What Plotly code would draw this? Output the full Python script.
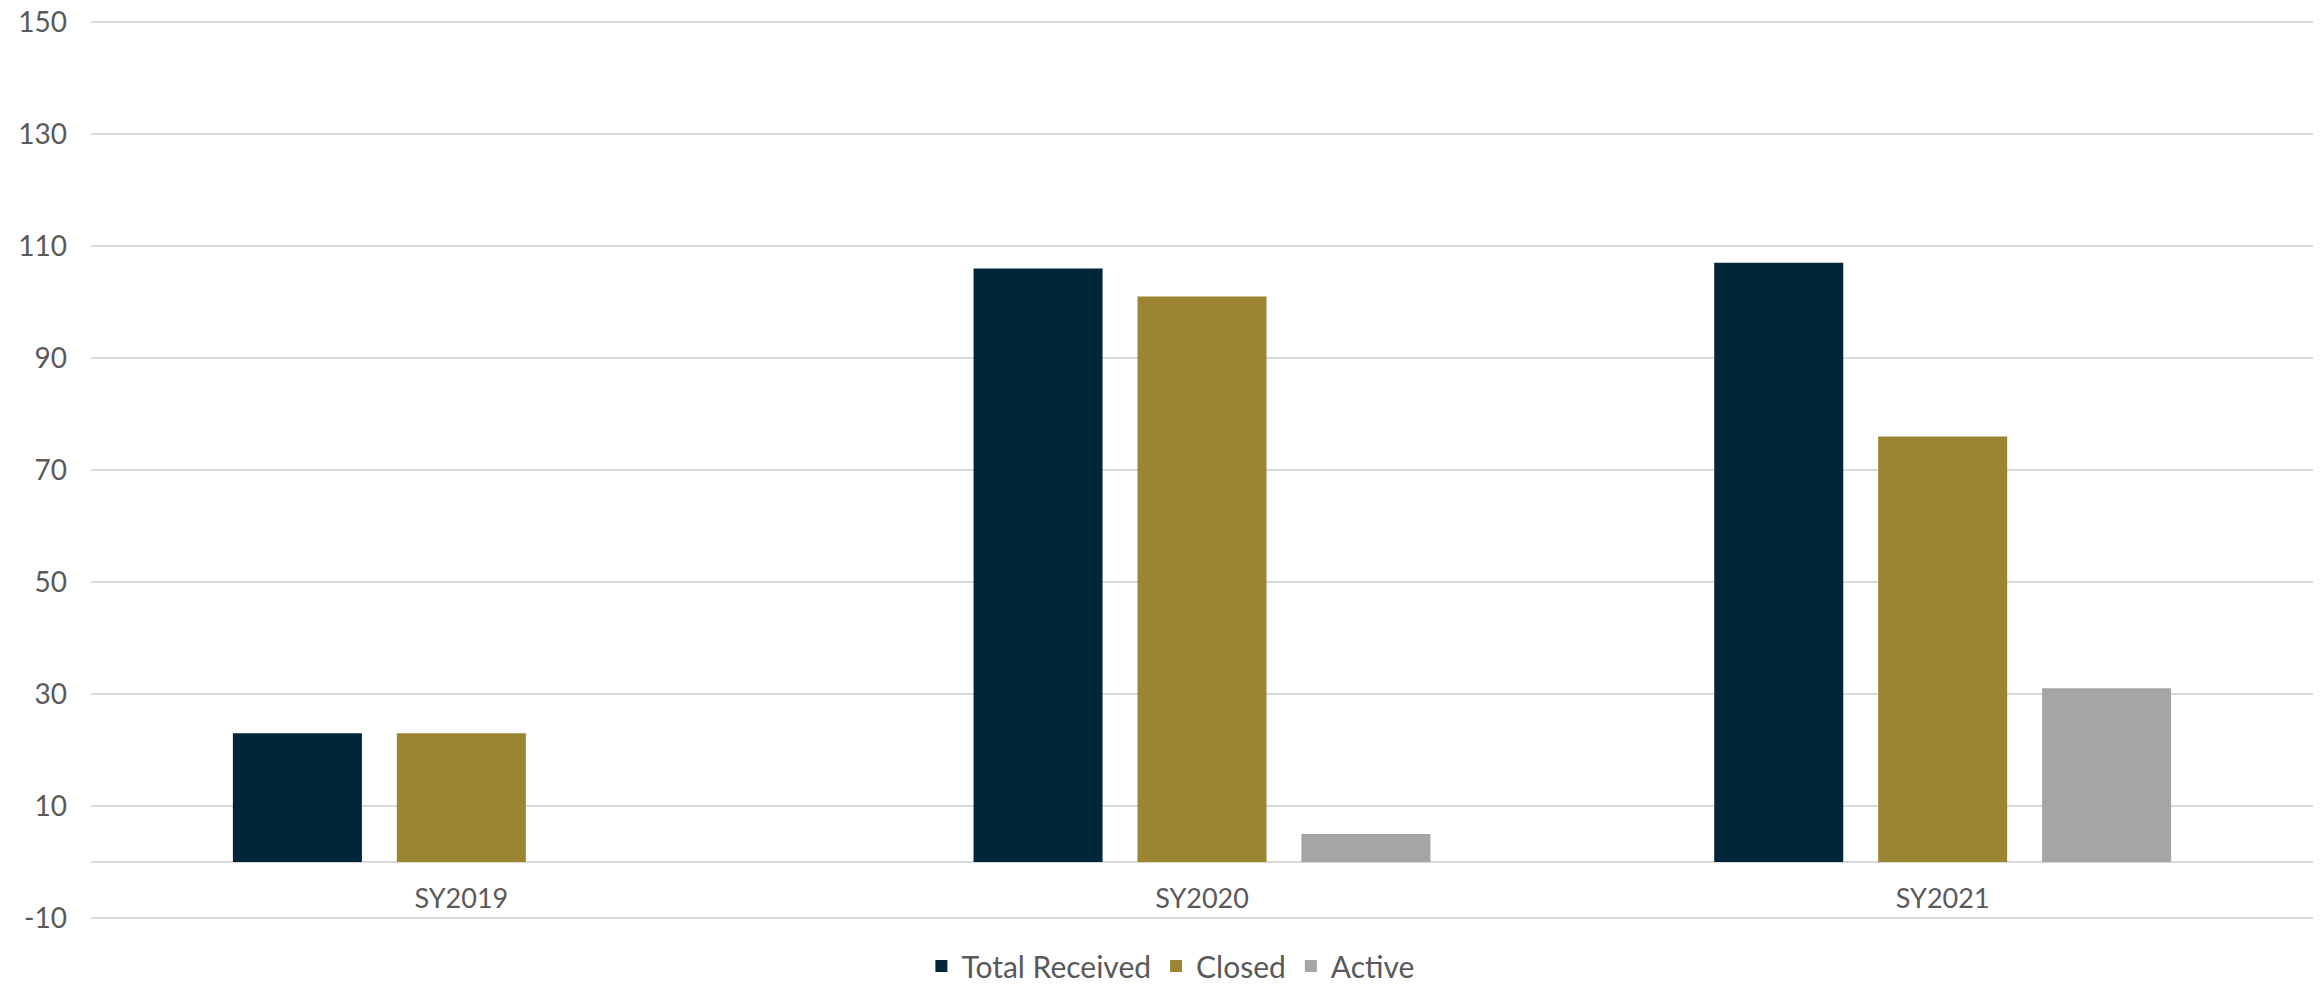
import plotly.graph_objects as go

categories = ["SY2019", "SY2020", "SY2021"]
total_received = [23, 106, 107]
closed = [23, 101, 76]
active = [None, 5, 31]

series_names = ["Total Received", "Closed", "Active"]
series_colors = ["#012639", "#9b8432", "#a5a5a5"]
y_ticks = [-10, 10, 30, 50, 70, 90, 110, 130, 150]
y_tick_text = [str(v) for v in y_ticks]

FONT = "Lato"
TXT = "#595959"

fig = go.Figure()
for name, vals, col in zip(series_names, [total_received, closed, active], series_colors):
    fig.add_trace(go.Bar(x=categories, y=vals, name=name, marker=dict(color=col, line=dict(width=0))))

fig.update_layout(
    width=2320, height=992,
    margin=dict(l=91, r=7, t=21, b=73, autoexpand=False),
    paper_bgcolor="white", plot_bgcolor="white",
    barmode="group", bargap=0.336, bargroupgap=0.213,
    font=dict(family=FONT, color=TXT, size=27),
    legend=dict(orientation="h", xanchor="center", x=0.486, yanchor="bottom",
                yref="container", y=0.0,
                font=dict(family=FONT, size=30, color=TXT), itemwidth=30, traceorder="normal"),
    xaxis=dict(anchor="free", position=10.2/160.4, showline=False, showgrid=False, ticks="",
               automargin=False,
               tickfont=dict(family=FONT, size=27, color=TXT), ticklabelstandoff=18),
    yaxis=dict(range=[-10.2, 150.2], tickvals=y_ticks, ticktext=y_tick_text, showgrid=True,
               gridcolor="#d9d9d9", gridwidth=2, automargin=False,
               zeroline=True, zerolinecolor="#d9d9d9", zerolinewidth=2, showline=False, ticks="",
               tickfont=dict(family=FONT, size=28, color=TXT), ticklabelstandoff=23),
)

fig.write_html("out.html", post_script="document.body.style.margin='0';",
               config={"displayModeBar": False})
